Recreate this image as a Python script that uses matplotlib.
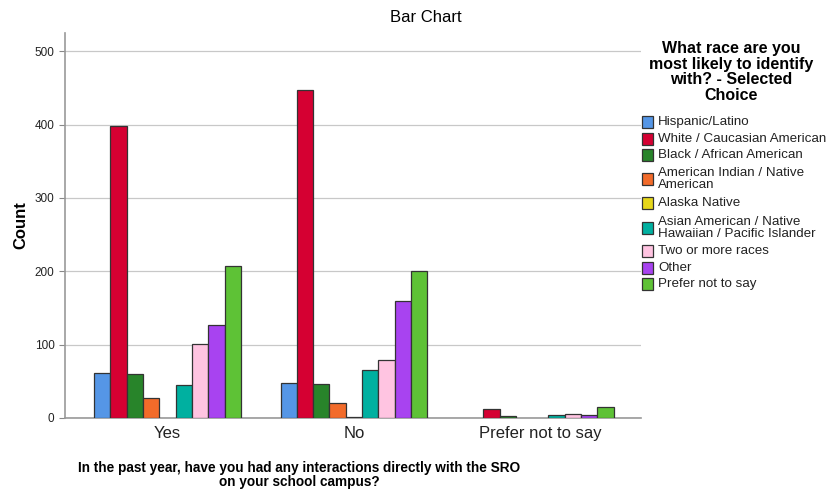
import numpy as np
import matplotlib.pyplot as plt
from matplotlib.patches import Rectangle

plt.rcParams['font.family'] = ['Liberation Sans', 'DejaVu Sans']

categories = ['Yes', 'No', 'Prefer not to say']
races = ['Hispanic/Latino', 'White / Caucasian American', 'Black / African American',
         'American Indian / Native\nAmerican', 'Alaska Native',
         'Asian American / Native\nHawaiian / Pacific Islander', 'Two or more races',
         'Other', 'Prefer not to say']
colors = ['#5596E6', '#D50032', '#28842A', '#F26B2A', '#E6D71A',
          '#00B0A0', '#FFC4E1', '#A843F0', '#5EC236']

# counts per race, in order Yes / No / Prefer not to say
hispanic = [62, 48, 0]
white = [398, 447, 12]
black = [60, 47, 3]
am_indian = [27, 20, 0]
alaska = [0, 1, 0]
asian = [45, 65, 4]
two_more = [101, 79, 5]
other = [127, 159, 4]
prefer = [207, 200, 15]
counts = [hispanic, white, black, am_indian, alaska, asian, two_more, other, prefer]

W, H = 827, 491
fig = plt.figure(figsize=(8.27, 4.91), dpi=100)
ax = fig.add_axes([65 / W, 1 - 418 / H, (641 - 65) / W, (418 - 33) / H])

x = np.arange(len(categories))
width = 0.0875
for i, (vals, c) in enumerate(zip(counts, colors)):
    off = (i - 4) * width
    for xi, v in zip(x, vals):
        if v > 0:
            ax.bar(xi + off, v, width, color=c, edgecolor='#333333', linewidth=0.9, zorder=3)

ax.set_xlim(-0.55, 2.54)
ax.set_ylim(0, 525)
ax.set_yticks(range(0, 501, 100))
ax.set_xticks(x)
ax.set_xticklabels(categories, fontsize=12, color='#222222')
ax.tick_params(axis='y', labelsize=8.5, colors='#222222', length=4, color='#888888')
ax.tick_params(axis='x', length=0, pad=6)
ax.grid(axis='y', color='#c8c8c8', linewidth=0.9, zorder=0)
for s in ['top', 'right']:
    ax.spines[s].set_visible(False)
for s in ['left', 'bottom']:
    ax.spines[s].set_color('#999999')
    ax.spines[s].set_linewidth(1.2)

fig.text(426 / W, 1 - 18 / H, 'Bar Chart', ha='center', va='center', fontsize=12)
fig.text(21 / W, 1 - 225 / H, 'Count', rotation=90, ha='center', va='center',
         fontsize=12, fontweight='bold')
fig.text(299 / W, 1 - 475 / H,
         'In the past year, have you had any interactions directly with the SRO\non your school campus?',
         ha='center', va='center', fontsize=9.8, fontweight='bold', linespacing=1.05)

# legend
fig.text(731 / W, 1 - 72 / H, 'What race are you\nmost likely to identify\nwith? - Selected\nChoice',
         ha='center', va='center', fontsize=11.5, fontweight='bold', linespacing=1.05)
ys = [122, 139, 155, 179, 203, 228, 251, 268, 284]
for lab, c, yy in zip(races, colors, ys):
    fig.patches.append(Rectangle((642 / W, 1 - (yy + 6) / H), 11 / W, 12 / H,
                                 transform=fig.transFigure, facecolor=c,
                                 edgecolor='#333333', linewidth=0.9))
    fig.text(658 / W, 1 - yy / H, lab, ha='left', va='center', fontsize=9.6,
             color='#222222', linespacing=0.9)

fig.savefig('out.png', dpi=100)
